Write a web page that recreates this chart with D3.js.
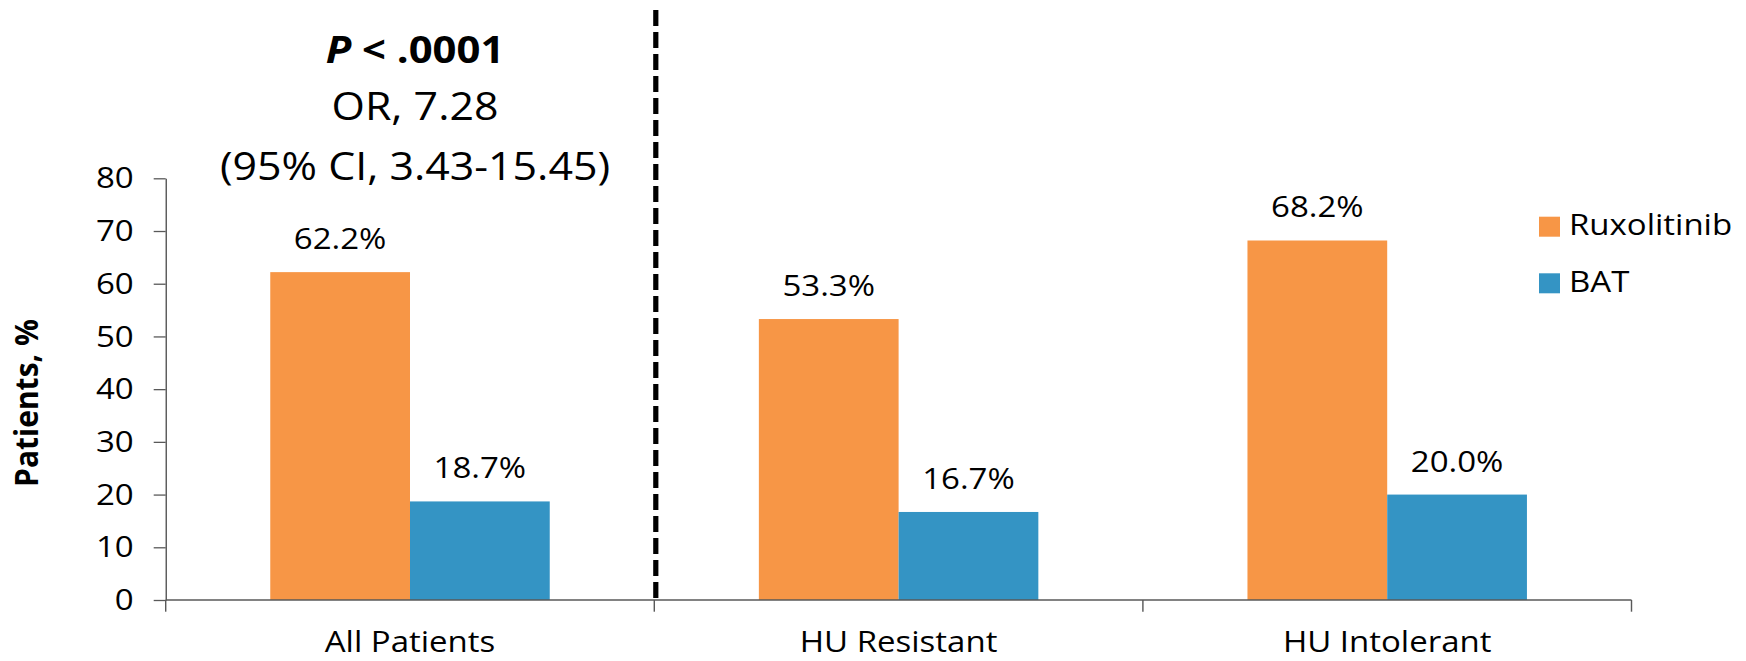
<!DOCTYPE html>
<html>
<head>
<meta charset="utf-8">
<script src="https://cdn.jsdelivr.net/npm/d3@7"></script>
<style>
  html, body { margin: 0; padding: 0; background: #ffffff; }
  svg { display: block; }
  text { font-family: "Open Sans", "Noto Sans", sans-serif; fill: #000; }
</style>
</head>
<body>
<div id="chart"></div>
<script>
// Response rates by patient group
const categories = ["All Patients", "HU Resistant", "HU Intolerant"];
const seriesNames = ["Ruxolitinib", "BAT"];
const ruxolitinib = [62.2, 53.3, 68.2];
const bat = [18.7, 16.7, 20.0];
const yTicks = [0, 10, 20, 30, 40, 50, 60, 70, 80];
const yLabel = "Patients, %";
const pLabel = "P";
const pValue = " < .0001";
const orLine = "OR, 7.28";
const ciLine = "(95% CI, 3.43-15.45)";

const W = 1746, H = 661;
const SX = 1.10;               // horizontal stretch of the drawing
const VW = W / SX;
const fx = v => v / SX;        // page pixels -> drawing units (x only)

const svg = d3.select("#chart").append("svg")
  .attr("width", W).attr("height", H)
  .attr("viewBox", `0 0 ${VW} ${H}`)
  .attr("preserveAspectRatio", "none");

const plot = { left: fx(165.7), right: fx(1631.5), top: 178.3, bottom: 600 };
const axisColor = "#595959";

const x = d3.scaleBand().domain(categories).range([plot.left, plot.right]);
const y = d3.scaleLinear().domain([0, 80]).range([plot.bottom, plot.top]);
const inset = x.bandwidth() * 0.214;
const xs = d3.scaleBand().domain(seriesNames).range([inset, x.bandwidth() - inset]);
const color = d3.scaleOrdinal().domain(seriesNames).range(["#F79646", "#3494C4"]);

const rows = categories.map((c, i) => ({
  cat: c,
  values: [
    { key: "Ruxolitinib", v: ruxolitinib[i] },
    { key: "BAT", v: bat[i] }
  ]
}));

// Bars
const groups = svg.append("g").selectAll("g").data(rows).join("g")
  .attr("transform", d => `translate(${x(d.cat)},0)`);

groups.selectAll("rect").data(d => d.values).join("rect")
  .attr("x", d => xs(d.key))
  .attr("y", d => y(d.v))
  .attr("width", xs.bandwidth())
  .attr("height", d => y(0) - y(d.v))
  .attr("fill", d => color(d.key));

// Value labels
groups.selectAll("text.val").data(d => d.values).join("text")
  .attr("class", "val")
  .attr("x", d => xs(d.key) + xs.bandwidth() / 2)
  .attr("y", d => y(d.v) - 23)
  .attr("text-anchor", "middle")
  .style("font-size", "30px")
  .text(d => d3.format(".1f")(d.v) + "%");

// Y axis
const yAxis = svg.append("g")
  .attr("transform", `translate(${plot.left},0)`)
  .call(d3.axisLeft(y).tickValues(yTicks).tickSize(fx(12)).tickSizeOuter(0).tickPadding(fx(20)));
yAxis.select(".domain").attr("stroke", axisColor).attr("stroke-width", 1.3);
yAxis.selectAll(".tick line").attr("stroke", axisColor).attr("stroke-width", 1.3);
yAxis.selectAll(".tick text")
  .style("font-size", "30px")
  .style("font-family", "'Open Sans', sans-serif")
  .attr("fill", "#000");

// X axis: baseline with ticks on category boundaries
const xAxis = svg.append("g");
xAxis.append("line")
  .attr("x1", plot.left).attr("x2", plot.right)
  .attr("y1", y(0)).attr("y2", y(0))
  .attr("stroke", axisColor).attr("stroke-width", 1.3);
const bounds = categories.map(c => x(c)).concat([x.range()[1]]);
xAxis.selectAll("line.tick").data(bounds).join("line")
  .attr("class", "tick")
  .attr("x1", d => d).attr("x2", d => d)
  .attr("y1", y(0)).attr("y2", y(0) + 11.7)
  .attr("stroke", axisColor).attr("stroke-width", 1.3);
xAxis.selectAll("text").data(categories).join("text")
  .attr("x", d => x(d) + x.bandwidth() / 2)
  .attr("y", 652.5)
  .attr("text-anchor", "middle")
  .style("font-size", "30px")
  .text(d => d);

// Y axis title
svg.append("text")
  .attr("transform", `translate(${fx(38.3)},403) rotate(-90)`)
  .attr("text-anchor", "middle")
  .style("font-size", "30px")
  .style("font-weight", 700)
  .text(yLabel);

// Dashed divider between overall and subgroup results
svg.append("line")
  .attr("x1", x(categories[1]) + fx(1.5)).attr("x2", x(categories[1]) + fx(1.5))
  .attr("y1", 10).attr("y2", y(0))
  .attr("stroke", "#000")
  .attr("stroke-width", fx(5.2))
  .attr("stroke-dasharray", "16,6");

// Statistics annotation above the overall group
const ax = x(categories[0]) + x.bandwidth() / 2 + fx(5);
const pText = svg.append("text")
  .attr("x", ax).attr("y", 63)
  .attr("text-anchor", "middle")
  .style("font-size", "38px")
  .style("font-weight", 700);
pText.append("tspan").style("font-style", "italic").text(pLabel);
pText.append("tspan").text(pValue);
svg.append("text")
  .attr("x", ax).attr("y", 120.5)
  .attr("text-anchor", "middle")
  .style("font-size", "39px")
  .text(orLine);
svg.append("text")
  .attr("x", ax).attr("y", 180)
  .attr("text-anchor", "middle")
  .style("font-size", "39px")
  .text(ciLine);

// Legend
const legend = svg.append("g").selectAll("g").data(seriesNames).join("g")
  .attr("transform", (d, i) => `translate(${fx(1539)},${216.7 + i * 56.6})`);
legend.append("rect")
  .attr("width", fx(21)).attr("height", 20)
  .attr("fill", d => color(d));
legend.append("text")
  .attr("x", fx(30)).attr("y", 18.5)
  .style("font-size", "30px")
  .text(d => d);
</script>
</body>
</html>
